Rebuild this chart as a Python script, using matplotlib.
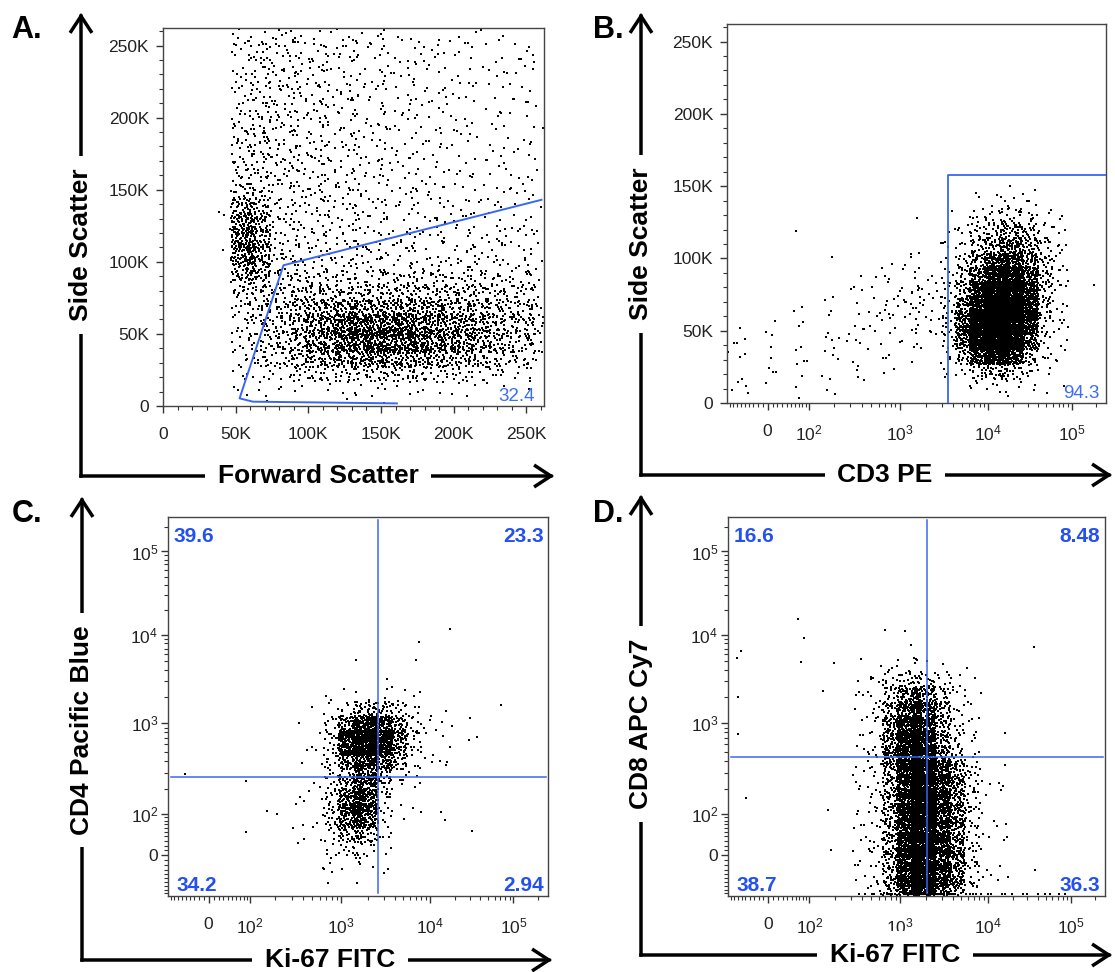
import numpy as np
import matplotlib
matplotlib.use("Agg")
import matplotlib.pyplot as plt
from matplotlib.patches import FancyArrowPatch
from matplotlib.ticker import FixedLocator, FixedFormatter, MultipleLocator

plt.rcParams['font.family'] = ['Liberation Sans', 'DejaVu Sans']
plt.rcParams['mathtext.fontset'] = 'custom'
plt.rcParams['mathtext.rm'] = 'Liberation Sans'
plt.rcParams['mathtext.it'] = 'Liberation Sans:italic'
plt.rcParams['mathtext.bf'] = 'Liberation Sans:bold'

# ---------------------------------------------------------------- data
# Event density: 26 x 26 cells over each plot area
# (row 0 = top).  Each character is a density code, see LEVEL_COUNTS.
LEVEL_CHARS = "0123456789abcdef"
LEVEL_COUNTS = [0, 1, 2, 3, 5, 7, 11, 16, 24, 36, 60, 90, 140, 200, 270, 350]

A_DENSITY = [
    "00000 4454 43343 332223 121221",
    "00000 5444 34343 323222 212121",
    "00000 4544 44333 332322 221211",
    "00000 5454 43433 233222 121222",
    "00000 5545 44343 333232 212121",
    "00000 5454 34433 323322 221212",
    "00000 5545 44343 332223 212121",
    "00000 6554 44433 333222 221222",
    "00000 6555 44343 332322 212121",
    "00000 6554 44434 333232 221212",
    "00000 6554 44443 333322 222222",
    "00001 8654 44444 333332 222222",
    "00002 9854 44434 333333 322222",
    "00002 a954 44434 333333 333323",
    "00002 a954 44443 434333 333333",
    "00001 a964 44444 434343 343333",
    "00001 9955 54444 444443 434343",
    "00000 8766 66666 666666 665555",
    "00000 6666 77777 777777 776665",
    "00000 5667 88999 999998 887766",
    "00000 5667 899aa aaa999 988776",
    "00000 5567 899aa aaaa99 988776",
    "00000 5566 88999 a99998 887665",
    "00000 4455 66677 777766 655443",
    "00000 2233 33333 333322 222111",
    "00000 1100 01011 010101 000000",
]

B_DENSITY = [
    "00000 00000 00000 00000 000000",
    "00000 00000 00000 00000 000000",
    "00000 00000 00000 00000 000000",
    "00000 00000 00000 00000 000000",
    "00000 00000 00000 00000 000000",
    "00000 00000 00000 00000 000000",
    "00000 00000 00000 00000 000000",
    "00000 00000 00000 00000 000000",
    "00000 00000 00000 00000 000000",
    "00000 00000 00000 00000 000000",
    "00000 00000 00000 00000 000000",
    "00000 00000 00000 00112 110000",
    "00000 00000 00000 01234 321000",
    "00000 00000 00010 13567 642000",
    "00001 00000 00001 25789 863100",
    "00000 00100 00111 3689a 974100",
    "00000 00000 11221 479bb a84100",
    "00000 00011 22332 58bcc b84110",
    "00000 01012 23443 59cdd c84100",
    "00001 01112 23443 6adee c84100",
    "10101 11122 23333 6befe c73100",
    "21111 11122 22222 6befd b63100",
    "21111 11221 11111 59cdc 952100",
    "21111 11111 11011 36898 642000",
    "21111 11111 01000 13454 321000",
    "10001 00100 00000 00111 000000",
]

C_DENSITY = [
    "00000 00000 00000 00000 000000",
    "00000 00000 00000 00000 000000",
    "00000 00000 00000 00000 000000",
    "00000 00000 00000 00000 000000",
    "00000 00000 00000 00000 000000",
    "00000 00000 00000 00000 000000",
    "00000 00000 00000 00000 000000",
    "00000 00000 00000 00010 000000",
    "00000 00000 00000 01000 000000",
    "00000 00000 00100 00000 000000",
    "00000 00000 00000 00100 000000",
    "00000 00000 01001 10000 000000",
    "00000 00000 01233 32100 000000",
    "00000 00000 24799 85210 000100",
    "00000 00001 36bcb a6321 110000",
    "00000 00001 37cdc a6321 100000",
    "00000 00000 36abb 95311 000000",
    "01000 00001 369a9 63210 000000",
    "00001 00001 369b7 32100 000000",
    "00000 00001 37bb6 21001 000000",
    "00000 01111 37bb5 21000 000000",
    "00000 10011 26994 10001 100000",
    "00000 00001 24663 10000 000000",
    "00000 00000 13431 00000 000000",
    "00000 00000 11211 00000 000000",
    "00000 00000 01000 00000 000000",
]

D_DENSITY = [
    "00000 00000 00000 00000 000000",
    "00000 00000 00000 00000 000000",
    "00000 00000 00000 00000 000000",
    "00000 00000 00000 00000 000000",
    "00000 00000 00000 00000 000000",
    "00000 00000 00000 00000 000000",
    "00001 00000 00000 00000 000000",
    "00000 00000 10000 00000 000000",
    "10000 10000 00200 00000 000000",
    "00001 00100 10110 00000 100000",
    "10000 00001 23432 11000 000000",
    "00000 01012 47886 42000 000000",
    "10000 00012 58aa8 52100 000000",
    "00000 00012 59bb9 63100 000000",
    "10000 00002 5acb9 63110 000000",
    "00000 00012 5acc9 73100 000000",
    "00000 00012 5acca 73100 000000",
    "00000 00012 59cdb a6311 000000",
    "01000 00012 59cdb a6310 000000",
    "00000 00012 59cdb a6310 000000",
    "00000 00112 59cdb a6310 000000",
    "00000 00012 59cdb a6311 000000",
    "00000 00012 59cdb a6310 000000",
    "00000 00112 59cdb a6310 000000",
    "00000 00012 59cdb a6310 010000",
    "00000 00012 59cdb a6310 000000",
]
# events piled on the lower edge of panel D (per column)
D_FLOOR = "00000 00003 34444 33322 222100"

# gates
A_GATE_X = [160900, 61900, 52700, 82900, 260400]
A_GATE_Y = [1800, 3000, 5300, 97600, 143000]
B_GATE_X = [3550, 3550, 262144]
B_GATE_Y = [0, 158000, 158000]
C_QUAD = (2590, 273)
D_QUAD = (2020, 447)

# gate percentages
A_PCT = ["32.4"]
B_PCT = ["94.3"]
C_PCT = ["39.6", "23.3", "34.2", "2.94"]   # UL, UR, LL, LR
D_PCT = ["16.6", "8.48", "38.7", "36.3"]

# axis ticks
LIN_TICKS = [0, 50000, 100000, 150000, 200000, 250000]
LIN_LABELS = ["0", "50K", "100K", "150K", "200K", "250K"]
LOG_TICKS = [0, 1e2, 1e3, 1e4, 1e5]
LOG_LABELS = ["0", r"$\mathregular{10^2}$", r"$\mathregular{10^3}$",
              r"$\mathregular{10^4}$", r"$\mathregular{10^5}$"]
LOG_MINOR = ([-v for v in range(10, 100, 10)] + list(range(10, 100, 10)) +
             list(range(200, 1000, 100)) + list(range(2000, 10000, 1000)) +
             list(range(20000, 100000, 10000)) + [200000])

# ---------------------------------------------------------------- style
W, H = 1115, 972
GATE_COLOR = "#3a66f5"
TXT_BLUE = "#2450f2"
TXT_BLUE_LIGHT = "#3d6cf5"
SPREAD = 0.35          # how far events of a cell may spill into neighbours

# biexponential-like display scale
LIN_W = 77.0
ANCHOR_VALUES = np.array([-100, 0, 100, 1e3, 1e4, 1e5, 262144], float)
ANCHOR_POS = np.array([0.0, 0.107, 0.216, 0.456, 0.689, 0.909, 1.0])
ANCHOR_U = np.arcsinh(ANCHOR_VALUES / LIN_W)


def _pl(x, xp, fp):
    x = np.asarray(x, float)
    y = np.interp(x, xp, fp)
    y = np.where(x < xp[0], fp[0] + (x - xp[0]) * (fp[1] - fp[0]) / (xp[1] - xp[0]), y)
    y = np.where(x > xp[-1], fp[-1] + (x - xp[-1]) * (fp[-1] - fp[-2]) / (xp[-1] - xp[-2]), y)
    return y


def logicle_fwd(x):
    return _pl(np.arcsinh(np.asarray(x, float) / LIN_W), ANCHOR_U, ANCHOR_POS)


def logicle_inv(p):
    return LIN_W * np.sinh(_pl(p, ANCHOR_POS, ANCHOR_U))


def radical_inverse(idx, base):
    n = np.asarray(idx, dtype=np.int64).copy()
    out = np.zeros(n.shape, float)
    f = 1.0 / base
    while np.any(n > 0):
        out += f * (n % base)
        n //= base
        f /= base
    return out


fig = plt.figure(figsize=(W / 100, H / 100), dpi=100)


def px_rect(l, t, r, b):
    return [l / W, 1 - b / H, (r - l) / W, (b - t) / H]


axA = fig.add_axes(px_rect(163, 28, 544, 406))
axB = fig.add_axes(px_rect(727, 24, 1106, 403))
axC = fig.add_axes(px_rect(168, 517, 548, 896))
axD = fig.add_axes(px_rect(728, 517, 1105, 896))


def style(ax, ypad):
    for sp in ax.spines.values():
        sp.set_color("#444444")
        sp.set_linewidth(1.0)
    ax.tick_params(which="both", direction="out", colors="#333333",
                   labelcolor="#222222", labelsize=12.5, top=False, right=False)
    ax.tick_params(which="major", length=5, width=1.0)
    ax.tick_params(which="minor", length=2.6, width=0.8)
    ax.tick_params(axis="x", which="both", pad=10)
    ax.tick_params(axis="y", which="both", pad=ypad)


def lin_axis(axis):
    axis.set_major_locator(FixedLocator(LIN_TICKS))
    axis.set_major_formatter(FixedFormatter(LIN_LABELS))
    axis.set_minor_locator(MultipleLocator(10000))


def log_axis(axis):
    axis.set_major_locator(FixedLocator(LOG_TICKS))
    axis.set_major_formatter(FixedFormatter(LOG_LABELS))
    axis.set_minor_locator(FixedLocator(LOG_MINOR))


# axes setup
axA.set_xlim(0, 262144); axA.set_ylim(0, 262144)
lin_axis(axA.xaxis); lin_axis(axA.yaxis); style(axA, 5)

axB.set_xscale("function", functions=(logicle_fwd, logicle_inv))
axB.set_xlim(-100, 262144); axB.set_ylim(0, 262144)
log_axis(axB.xaxis); lin_axis(axB.yaxis); style(axB, 5)

for ax in (axC, axD):
    ax.set_xscale("function", functions=(logicle_fwd, logicle_inv))
    ax.set_yscale("function", functions=(logicle_fwd, logicle_inv))
    ax.set_xlim(-100, 262144); ax.set_ylim(-100, 262144)
    log_axis(ax.xaxis); log_axis(ax.yaxis); style(ax, 2)


def grid_points(ax, grid, salt):
    rows = [r.replace(" ", "") for r in grid]
    nr, nc = len(rows), len(rows[0])
    fxs, fys = [], []
    for r, row in enumerate(rows):
        assert len(row) == nc, (r, len(row))
        for c, ch in enumerate(row):
            n = LEVEL_COUNTS[LEVEL_CHARS.index(ch)]
            if n == 0:
                continue
            start = (r * nc + c) * 409 + salt
            k = start + np.arange(n)
            u = radical_inverse(k, 2)
            v = radical_inverse(k, 3)
            u = -SPREAD + (1 + 2 * SPREAD) * u
            v = -SPREAD + (1 + 2 * SPREAD) * v
            fxs.append((c + u) / nc)
            fys.append(1.0 - (r + v) / nr)
    fx, fy = np.concatenate(fxs), np.concatenate(fys)
    keep = (fx > 0.002) & (fx < 0.998) & (fy > 0.002) & (fy < 0.998)
    xy = (ax.transAxes + ax.transData.inverted()).transform(
        np.column_stack([fx[keep], fy[keep]]))
    return xy[:, 0], xy[:, 1]


def floor_points(ax, counts):
    s = counts.replace(" ", "")
    nc = len(s)
    fxs = []
    for c, ch in enumerate(s):
        n = LEVEL_COUNTS[LEVEL_CHARS.index(ch)]
        if n == 0:
            continue
        k = c * 97 + 5 + np.arange(n)
        fxs.append((c + radical_inverse(k, 2)) / nc)
    fx = np.concatenate(fxs)
    fy = np.full_like(fx, 0.004)
    xy = (ax.transAxes + ax.transData.inverted()).transform(np.column_stack([fx, fy]))
    return xy[:, 0], xy[:, 1]


DOT = dict(s=2.8, c="black", marker="s", linewidths=0, antialiased=False, zorder=2)
for ax, grid, salt in ((axA, A_DENSITY, 11), (axB, B_DENSITY, 37),
                       (axC, C_DENSITY, 71), (axD, D_DENSITY, 13)):
    x, y = grid_points(ax, grid, salt)
    ax.scatter(x, y, **DOT)
fx_, fy_ = floor_points(axD, D_FLOOR)
axD.scatter(fx_, fy_, **DOT)

# gates
axA.plot(A_GATE_X, A_GATE_Y, color=GATE_COLOR, lw=1.4, zorder=3)
axB.plot(B_GATE_X, B_GATE_Y, color=GATE_COLOR, lw=1.3, zorder=3)
for ax, (qx, qy) in ((axC, C_QUAD), (axD, D_QUAD)):
    ax.axvline(qx, ymin=0.007, ymax=0.993, color=GATE_COLOR, lw=1.1, zorder=3)
    ax.axhline(qy, xmin=0.008, xmax=0.995, color=GATE_COLOR, lw=1.1, zorder=3)

# percentages
axA.text(0.976, 0.012, A_PCT[0], transform=axA.transAxes, ha="right",
         va="baseline", fontsize=13.5, color=TXT_BLUE_LIGHT, zorder=4)
axB.text(0.984, 0.014, B_PCT[0], transform=axB.transAxes, ha="right",
         va="baseline", fontsize=13.5, color=TXT_BLUE_LIGHT, zorder=4)
for ax, pct in ((axC, C_PCT), (axD, D_PCT)):
    kw = dict(transform=ax.transAxes, fontsize=15, fontweight="bold",
              color=TXT_BLUE, va="baseline", zorder=4)
    ax.text(0.014, 0.935, pct[0], ha="left", **kw)
    ax.text(0.988, 0.935, pct[1], ha="right", **kw)
    ax.text(0.022, 0.012, pct[2], ha="left", **kw)
    ax.text(0.988, 0.012, pct[3], ha="right", **kw)


# L-shaped arrows with labels
def fxy(x, y):
    return (x / W, 1 - y / H)


def l_arrow(x, y_top, y_corner, x_right):
    corner = fxy(x, y_corner)
    for tip in (fxy(x, y_top), fxy(x_right, y_corner)):
        a = FancyArrowPatch(corner, tip, transform=fig.transFigure,
                            arrowstyle="->,head_length=0.55,head_width=0.36",
                            mutation_scale=20, lw=2.5, color="black",
                            capstyle="projecting", joinstyle="miter",
                            shrinkA=0, shrinkB=0)
        fig.add_artist(a)


LBL = dict(fontsize=19, fontweight="bold", color="black", ha="center", va="center",
           bbox=dict(facecolor="white", edgecolor="none", pad=9), zorder=5)

l_arrow(81, 13, 476, 554)
fig.text(*fxy(81, 245), "Side Scatter", rotation=90, **LBL)
fig.text(*fxy(318, 476), "Forward Scatter", **LBL)

l_arrow(641, 13, 475, 1112)
fig.text(*fxy(641, 244), "Side Scatter", rotation=90, **LBL)
fig.text(*fxy(885, 475), "CD3 PE", **LBL)

l_arrow(82, 497, 960, 552)
fig.text(*fxy(82, 730), "CD4 Pacific Blue", rotation=90, **LBL)
fig.text(*fxy(330, 960), "Ki-67 FITC", **LBL)

l_arrow(641, 495, 955, 1112)
fig.text(*fxy(641, 724), "CD8 APC Cy7", rotation=90, **LBL)
fig.text(*fxy(895, 955), "Ki-67 FITC", **LBL)

# panel letters
PL = dict(fontsize=22, fontweight="bold", color="black", ha="left", va="baseline")
fig.text(*fxy(11, 38), "A.", **PL)
fig.text(*fxy(593, 38), "B.", **PL)
fig.text(*fxy(12, 522), "C.", **PL)
fig.text(*fxy(593, 522), "D.", **PL)

fig.savefig("out.png", dpi=100, facecolor="white")
